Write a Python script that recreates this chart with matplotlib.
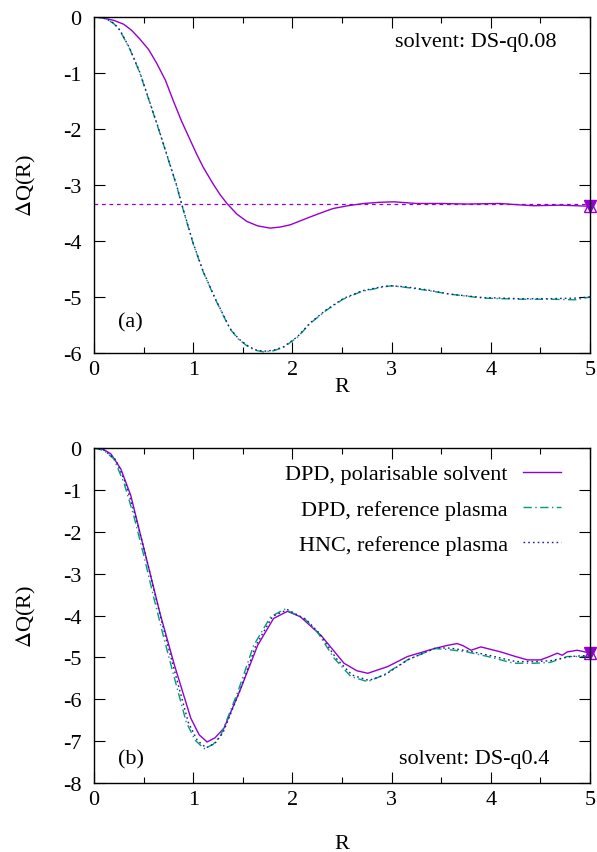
import matplotlib
matplotlib.use("Agg")
import matplotlib.pyplot as plt
from matplotlib.ticker import MultipleLocator

plt.rcParams['font.family'] = ['Liberation Serif', 'DejaVu Serif']
plt.rcParams['mathtext.fontset'] = 'stix'
plt.rcParams['axes.unicode_minus'] = False

# ---- panel (a): solvent DS-q0.08 ----
a_pol_x = [0, 0.1, 0.2, 0.3, 0.38, 0.46, 0.55, 0.63, 0.72, 0.8, 0.88, 0.97, 1.035, 1.1, 1.2,
           1.27, 1.34, 1.44, 1.54, 1.65, 1.775, 1.88, 1.98, 2.08, 2.18, 2.3, 2.41, 2.56, 2.72,
           2.87, 3.02, 3.25, 3.5, 3.76, 4.09, 4.25, 4.43, 4.7, 5.0]
a_pol_y = [0, -0.02, -0.06, -0.13, -0.24, -0.39, -0.58, -0.82, -1.13, -1.5, -1.85, -2.2, -2.45, -2.68, -2.98,
           -3.17, -3.33, -3.52, -3.65, -3.73, -3.77, -3.75, -3.71, -3.64, -3.57, -3.49, -3.42, -3.37, -3.33,
           -3.31, -3.30, -3.33, -3.33, -3.34, -3.33, -3.35, -3.37, -3.36, -3.38]
a_ref_x = [0, 0.07, 0.13, 0.2, 0.26, 0.36, 0.46, 0.56, 0.65, 0.74, 0.83, 0.9, 1.0, 1.1, 1.22, 1.37,
           1.46, 1.54, 1.62, 1.71, 1.81, 1.91, 2.05, 2.18, 2.34, 2.51, 2.7, 2.92, 3.0, 3.15, 3.35,
           3.59, 3.92, 4.3, 4.6, 4.85, 5.0]
a_dpd_y = [0, -0.01, -0.04, -0.12, -0.24, -0.57, -0.99, -1.52, -2.0, -2.5, -3.0, -3.45, -4.05, -4.55, -5.03, -5.57,
           -5.76, -5.87, -5.95, -5.98, -5.96, -5.90, -5.72, -5.47, -5.24, -5.04, -4.9, -4.82, -4.80, -4.83, -4.88,
           -4.95, -5.02, -5.04, -5.04, -5.05, -5.0]
a_hnc_y = [0, -0.01, -0.04, -0.11, -0.23, -0.56, -0.98, -1.51, -1.99, -2.49, -2.99, -3.44, -4.04, -4.54, -5.02, -5.56,
           -5.75, -5.86, -5.94, -5.97, -5.95, -5.89, -5.71, -5.46, -5.23, -5.03, -4.89, -4.81, -4.80, -4.82, -4.87,
           -4.95, -5.01, -5.03, -5.03, -5.02, -5.0]
a_limit = -3.34
a_end = -3.37

# ---- panel (b): solvent DS-q0.4 ----
b_pol_x = [0, 0.1, 0.17, 0.27, 0.37, 0.47, 0.57, 0.67, 0.81, 0.975, 1.06, 1.14, 1.22, 1.31, 1.48,
           1.65, 1.81, 1.95, 2.08, 2.29, 2.52, 2.65, 2.76, 2.96, 3.16, 3.43, 3.55, 3.66, 3.72,
           3.8, 3.9, 4.1, 4.25, 4.37, 4.5, 4.58, 4.67, 4.72, 4.77, 4.87, 4.93, 5.0]
b_pol_y = [0, -0.04, -0.14, -0.5, -1.13, -2.09, -3.04, -3.99, -5.18, -6.45, -6.85, -7.02, -6.92, -6.69, -5.74,
           -4.71, -4.07, -3.9, -4.03, -4.48, -5.14, -5.32, -5.38, -5.22, -4.98, -4.79, -4.72, -4.67, -4.72,
           -4.83, -4.75, -4.87, -4.98, -5.06, -5.06, -4.99, -4.9, -4.95, -4.87, -4.83, -4.86, -4.9]
b_dpd_x = [0, 0.1, 0.2, 0.3, 0.4, 0.5, 0.6, 0.7, 0.8, 0.93, 1.02, 1.11, 1.2, 1.28, 1.45, 1.61,
           1.78, 1.92, 2.12, 2.25, 2.42, 2.59, 2.76, 2.92, 3.16, 3.43, 3.56, 3.76, 3.97, 4.23,
           4.44, 4.6, 4.77, 5.0]
b_dpd_y = [0, -0.06, -0.26, -0.82, -1.61, -2.55, -3.55, -4.5, -5.4, -6.55, -6.98, -7.18, -7.08, -6.85, -5.82, -4.71,
           -4.03, -3.85, -4.07, -4.39, -5.02, -5.46, -5.58, -5.42, -5.06, -4.79, -4.81, -4.87, -4.98, -5.14,
           -5.14, -5.12, -4.98, -4.98]
b_hnc_x = [0, 0.1, 0.22, 0.32, 0.42, 0.52, 0.62, 0.72, 0.82, 0.95, 1.04, 1.13, 1.22, 1.3, 1.47, 1.63,
           1.8, 1.95, 2.14, 2.27, 2.44, 2.6, 2.77, 2.93, 3.17, 3.45, 3.6, 3.8, 4.0, 4.25,
           4.45, 4.6, 4.8, 5.0]
b_hnc_y = [0, -0.05, -0.28, -0.85, -1.65, -2.55, -3.55, -4.5, -5.4, -6.55, -6.98, -7.16, -7.05, -6.8, -5.8, -4.72,
           -4.02, -3.86, -4.1, -4.42, -5.02, -5.42, -5.55, -5.42, -5.05, -4.77, -4.78, -4.86, -4.96, -5.1,
           -5.1, -5.08, -4.98, -4.95]
b_end = -4.9

purple = '#9400D3'
green = '#009E73'
blue = '#1c1c9c'
dashdot = (0, (6, 2.5, 1, 2.5))
dotted = (0, (1.2, 2.2))
fs = 16

fig = plt.figure(figsize=(5.97, 8.53), dpi=100)
ax_a = fig.add_axes([0.1575, 0.585, 0.8308, 0.3939])
ax_b = fig.add_axes([0.1575, 0.0809, 0.8308, 0.3927])

# panel (a)
ax_a.axhline(a_limit, color=purple, lw=0.9, ls=(0, (3, 3)))
ax_a.plot(a_pol_x, a_pol_y, color=purple, lw=1.0)
ax_a.plot(a_ref_x, a_dpd_y, color=green, lw=1.0, ls=dashdot)
ax_a.plot(a_ref_x, a_hnc_y, color=blue, lw=1.0, ls=dotted)
ax_a.plot([5], [a_end], marker='^', ms=9, mfc='none', mec=purple, mew=1.0, clip_on=False)
ax_a.plot([5], [a_end], marker='v', ms=9, color=purple, clip_on=False)
ax_a.set_ylim(-6, 0)
ax_a.text(0.933, 0.926, 'solvent: DS-q0.08', transform=ax_a.transAxes,
          ha='right', va='center', fontsize=fs)
ax_a.text(0.048, 0.092, '(a)', transform=ax_a.transAxes, ha='left', va='center', fontsize=fs)

# panel (b)
ax_b.plot(b_pol_x, b_pol_y, color=purple, lw=1.0, label='DPD, polarisable solvent')
ax_b.plot(b_dpd_x, b_dpd_y, color=green, lw=1.0, ls=dashdot, label='DPD, reference plasma')
ax_b.plot(b_hnc_x, b_hnc_y, color=blue, lw=1.0, ls=dotted, label='HNC, reference plasma')
ax_b.plot([5], [b_end], marker='^', ms=9, mfc='none', mec=purple, mew=1.0, clip_on=False)
ax_b.plot([5], [b_end], marker='v', ms=9, color=purple, clip_on=False)
ax_b.set_ylim(-8, 0)
ax_b.text(0.919, 0.072, 'solvent: DS-q0.4', transform=ax_b.transAxes,
          ha='right', va='center', fontsize=fs)
ax_b.text(0.048, 0.072, '(b)', transform=ax_b.transAxes, ha='left', va='center', fontsize=fs)
ax_b.legend(loc='upper right', bbox_to_anchor=(0.959, 0.979), frameon=False, markerfirst=False,
            fontsize=fs, handlelength=1.7, handletextpad=0.68, labelspacing=0.66,
            borderaxespad=0)

for ax in (ax_a, ax_b):
    ax.set_xlim(0, 5)
    ax.xaxis.set_major_locator(MultipleLocator(1))
    ax.xaxis.set_minor_locator(MultipleLocator(0.5))
    ax.yaxis.set_major_locator(MultipleLocator(1))
    ax.tick_params(which='both', direction='in', top=True, right=True, labelsize=fs, width=0.8)
    ax.tick_params(which='major', length=8)
    ax.tick_params(which='minor', length=4)
    ax.tick_params(axis='x', which='major', pad=5)
    ax.tick_params(axis='y', which='major', pad=9)
    ax.set_xlabel('R', fontsize=fs)
    ax.set_ylabel(r'$\Delta$Q(R)', fontsize=fs)
    ax.yaxis.set_label_coords(-0.113, 0.5)
    for s in ax.spines.values():
        s.set_linewidth(1.0)

ax_a.xaxis.set_label_coords(0.5, -0.07)
ax_b.xaxis.set_label_coords(0.5, -0.152)

fig.savefig('out.png', dpi=100)
